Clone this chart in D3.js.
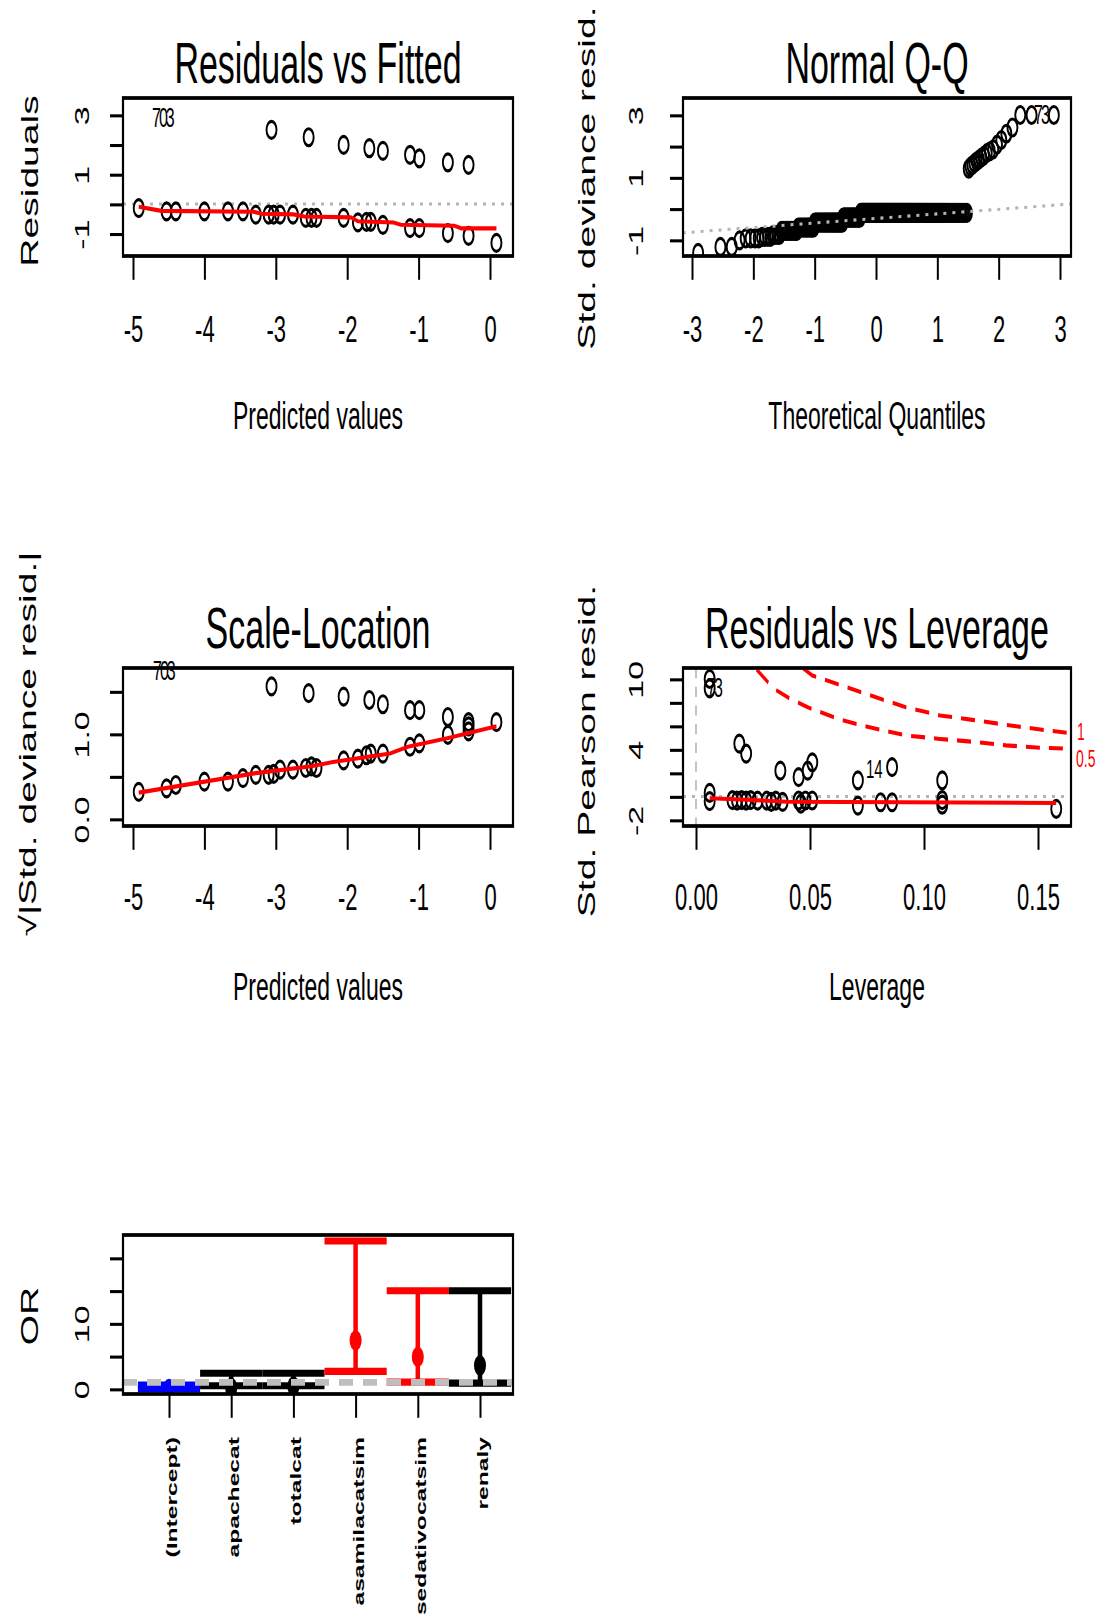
<!DOCTYPE html>
<html>
<head>
<meta charset="utf-8">
<script src="https://cdn.jsdelivr.net/npm/d3@7"></script>
<style>
  body { margin: 0; background: #fff; }
  svg { display: block; }
</style>
</head>
<body>
<svg id="chart" width="1107" height="1624"></svg>
<script>
const W = 1107, H = 1624;
const K = 1.7;              // the picture is stretched vertically by about this much
const Y = v => v / K;       // real pixel row -> inner (unstretched) row
const FONT = '"Liberation Sans", Arial, sans-serif';

// ---------- data ----------
// Residuals vs Fitted: [predicted, residual]
const fitPoints = [
  [-3.06, 2.50], [-2.54, 2.25], [-2.05, 1.99], [-1.69, 1.88], [-1.50, 1.79],
  [-1.12, 1.66], [-0.99, 1.54], [-0.59, 1.40], [-0.30, 1.32],
  [-4.92, -0.14], [-4.53, -0.25], [-4.40, -0.25], [-4.00, -0.25], [-3.67, -0.25],
  [-3.46, -0.25], [-3.28, -0.36], [-3.10, -0.36], [-3.03, -0.36], [-2.94, -0.36],
  [-2.76, -0.36], [-2.58, -0.47], [-2.50, -0.47], [-2.43, -0.47], [-2.05, -0.47],
  [-1.85, -0.62], [-1.73, -0.60], [-1.67, -0.60], [-1.50, -0.70], [-1.12, -0.81],
  [-0.99, -0.81], [-0.59, -0.98], [-0.30, -1.07], [0.09, -1.31]
];
const fitSmooth = [
  [-4.92, -0.09], [-4.72, -0.18], [-4.60, -0.23], [-3.31, -0.26], [-3.20, -0.33],
  [-2.75, -0.35], [-2.60, -0.42], [-1.95, -0.45], [-1.85, -0.58], [-1.35, -0.62],
  [-1.25, -0.70], [-0.50, -0.73], [-0.40, -0.82], [0.09, -0.82]
];

// Normal Q-Q: sorted std. deviance residuals as [value, how many], 268 in all
const qqResidRuns = [
  [-1.41, 1], [-1.22, 2], [-1.01, 1], [-0.95, 4], [-0.90, 4], [-0.84, 4],
  [-0.71, 11], [-0.60, 15], [-0.44, 37], [-0.28, 28], [-0.13, 143],
  [1.28, 1], [1.35, 1], [1.40, 1], [1.46, 1], [1.52, 1], [1.57, 1], [1.64, 1],
  [1.70, 1], [1.78, 1], [1.84, 1], [1.90, 1], [2.05, 1], [2.20, 1], [2.40, 1],
  [2.60, 1], [3.00, 3]
];
const qqLine = { intercept: -0.31, slope: 0.146 };

// Scale-Location: [predicted, sqrt|std. deviance resid|]
const slPoints = [
  [-3.06, 1.56], [-2.54, 1.48], [-2.05, 1.44], [-1.69, 1.40], [-1.50, 1.35],
  [-1.12, 1.28], [-0.99, 1.28], [-0.59, 1.20], [-0.30, 1.14], [-0.30, 1.09],
  [-4.92, 0.32], [-4.53, 0.36], [-4.40, 0.40], [-4.00, 0.44], [-3.67, 0.44],
  [-3.46, 0.48], [-3.28, 0.52], [-3.10, 0.52], [-3.03, 0.53], [-2.94, 0.58],
  [-2.76, 0.58], [-2.58, 0.60], [-2.50, 0.62], [-2.43, 0.60], [-2.05, 0.69],
  [-1.85, 0.71], [-1.73, 0.75], [-1.67, 0.77], [-1.50, 0.77], [-1.12, 0.85],
  [-0.99, 0.89], [-0.59, 0.99], [-0.30, 1.03], [0.09, 1.14]
];
const slSmooth = [
  [-4.92, 0.31], [-3.28, 0.54], [-2.50, 0.62], [-2.20, 0.67], [-1.40, 0.77],
  [-1.15, 0.85], [-0.60, 0.95], [0.09, 1.09]
];

// Residuals vs Leverage: [leverage, std. Pearson resid]
const levPoints = [
  [0.006, 10.0], [0.006, 9.2], [0.006, 0.3], [0.006, -0.4],
  [0.016, -0.3], [0.018, -0.35], [0.020, -0.3], [0.022, -0.35], [0.024, -0.3],
  [0.027, -0.35], [0.031, -0.35], [0.033, -0.45], [0.035, -0.35], [0.038, -0.45],
  [0.037, 2.2], [0.019, 4.5], [0.022, 3.65], [0.045, 1.65], [0.049, 2.2], [0.051, 2.9],
  [0.045, -0.34], [0.048, -0.34], [0.051, -0.34], [0.046, -0.6],
  [0.071, 1.37], [0.071, -0.77], [0.081, -0.49], [0.086, -0.49], [0.086, 2.5],
  [0.108, 1.37], [0.108, -0.3], [0.108, -0.7], [0.158, -1.05]
];
const levSmooth = [[0.006, -0.15], [0.025, -0.30], [0.040, -0.45], [0.158, -0.55]];
const cook1 = [
  [0.047, 10.9], [0.051, 10.3], [0.063, 9.5], [0.078, 8.5], [0.092, 7.6],
  [0.107, 6.9], [0.122, 6.5], [0.136, 6.1], [0.151, 5.7], [0.164, 5.4]
];
const cook05 = [
  [0.0266, 10.8], [0.034, 9.2], [0.041, 8.35], [0.049, 7.6], [0.063, 6.55],
  [0.078, 5.8], [0.092, 5.2], [0.107, 4.9], [0.122, 4.65], [0.136, 4.35],
  [0.151, 4.15], [0.164, 4.06]
];

// Odds ratios with confidence limits
const orCats = ['(Intercept)', 'apachecat', 'totalcat', 'asamilacatsim', 'sedativocatsim', 'renaly'];
const orEst = [0.0, 0.2, 0.4, 7.4, 4.9, 3.6];
const orLow = [0.0, 0.5, 0.5, 2.7, 1.05, 0.9];
const orHigh = [0.6, 2.4, 2.4, 22.6, 15.0, 15.0];
const orColor = ['#0000ff', '#000000', '#000000', '#ff0000', '#ff0000', '#000000'];
const orRef = 1;

// normal quantile (Acklam), used like qqnorm() for the theoretical axis
function qnorm(p) {
  const a = [-39.69683028665376, 220.9460984245205, -275.9285104469687, 138.3577518672690, -30.66479806614716, 2.506628277459239];
  const b = [-54.47609879822406, 161.5858368580409, -155.6989798598866, 66.80131188771972, -13.28068155288572];
  const c = [-0.007784894002430293, -0.3223964580411365, -2.400758277161838, -2.549732539343734, 4.374664141464968, 2.938163982698783];
  const d = [0.007784695709041462, 0.3224671290700398, 2.445134137142996, 3.754408661907416];
  const lo = 0.02425;
  const tail = q => (((((c[0] * q + c[1]) * q + c[2]) * q + c[3]) * q + c[4]) * q + c[5]) /
    ((((d[0] * q + d[1]) * q + d[2]) * q + d[3]) * q + 1);
  if (p < lo) return tail(Math.sqrt(-2 * Math.log(p)));
  if (p > 1 - lo) return -tail(Math.sqrt(-2 * Math.log(1 - p)));
  const q = p - 0.5, r = q * q;
  return (((((a[0] * r + a[1]) * r + a[2]) * r + a[3]) * r + a[4]) * r + a[5]) * q /
    (((((b[0] * r + b[1]) * r + b[2]) * r + b[3]) * r + b[4]) * r + 1);
}
const qqSorted = qqResidRuns.flatMap(([v, n]) => Array(n).fill(v));
const qqPoints = qqSorted.map((v, i) => [qnorm((i + 0.5) / qqSorted.length), v]);

// ---------- drawing ----------
const svg = d3.select('#chart');
svg.append('rect').attr('width', W).attr('height', H).attr('fill', '#fff');
const root = svg.append('g').attr('transform', `scale(1,${K})`).attr('font-family', FONT);

function hText(g, str, x, yReal, size, opts = {}) {
  return g.append('text').attr('x', x).attr('y', Y(yReal))
    .attr('font-size', size).attr('text-anchor', opts.anchor || 'middle')
    .attr('fill', opts.fill || '#000').text(str);
}
function vText(g, str, xBase, yReal, size, anchor = 'middle') {
  return g.append('text')
    .attr('transform', `translate(${xBase},${Y(yReal)}) rotate(-90)`)
    .attr('font-size', size).attr('text-anchor', anchor).text(str);
}

function panel(cfg) {
  const b = cfg.box;
  const g = root.append('g');
  const x = cfg.x, y = cfg.y;

  g.append('clipPath').attr('id', 'clip-' + cfg.name).append('rect')
    .attr('x', b.l).attr('y', Y(b.t)).attr('width', b.r - b.l).attr('height', Y(b.b) - Y(b.t));
  const plot = g.append('g').attr('clip-path', `url(#clip-${cfg.name})`);

  // x axis
  const xa = g.append('g').attr('transform', `translate(0,${Y(b.b)})`)
    .call(d3.axisBottom(x).tickValues(cfg.xTicks).tickSize(14)
      .tickFormat((d, i) => cfg.xLabels ? cfg.xLabels[i] : ''));
  xa.select('.domain').remove();
  xa.selectAll('line').attr('stroke-width', 2);
  xa.attr('font-family', FONT).attr('font-size', 22);
  xa.selectAll('text').attr('y', Y(cfg.xLabY) - Y(b.b)).attr('dy', null).attr('fill', '#000');

  // y axis
  const ya = g.append('g').attr('transform', `translate(${b.l},0)`)
    .call(d3.axisLeft(y).tickValues(cfg.yTicks).tickSize(13)
      .tickFormat((d, i) => cfg.yLabels[i]));
  ya.select('.domain').remove();
  ya.selectAll('line').attr('stroke-width', 1.8);
  ya.attr('font-family', FONT).attr('font-size', 20);
  ya.selectAll('text').attr('x', null).attr('dy', null).attr('fill', '#000')
    .attr('text-anchor', 'middle')
    .attr('transform', `translate(${cfg.yLabX - b.l},0) rotate(-90)`);

  if (cfg.title) hText(g, cfg.title, (b.l + b.r) / 2, cfg.titleY, 34);
  if (cfg.xTitle) hText(g, cfg.xTitle, (b.l + b.r) / 2, cfg.xTitleY, 23);
  vText(g, cfg.yTitle, cfg.yTitleX, cfg.yTitleY, 23);

  return { g, plot, x, y, b };
}

function points(p, data) {
  p.plot.append('g').selectAll('circle').data(data).join('circle')
    .attr('cx', d => p.x(d[0])).attr('cy', d => p.y(d[1])).attr('r', 5)
    .attr('fill', 'none').attr('stroke', '#000').attr('stroke-width', 1.9);
}
function curve(p, data, color, width, dash) {
  p.plot.append('path').datum(data)
    .attr('d', d3.line().x(d => p.x(d[0])).y(d => p.y(d[1])))
    .attr('fill', 'none').attr('stroke', color).attr('stroke-width', width)
    .attr('stroke-dasharray', dash || null);
}
function frame(p) {
  const b = p.b;
  p.g.append('rect').attr('x', b.l).attr('y', Y(b.t))
    .attr('width', b.r - b.l).attr('height', Y(b.b) - Y(b.t))
    .attr('fill', 'none').attr('stroke', '#000').attr('stroke-width', 2.2);
}
function idLabel(p, str, x0, yReal) {
  hText(p.g, str, x0, yReal, 16, { anchor: 'start' }).attr('letter-spacing', -2);
}

// 1. Residuals vs Fitted
const p1 = panel({
  name: 'p1', box: { l: 123, r: 513, t: 98, b: 256 },
  x: d3.scaleLinear().domain([-5, 0]).range([133, 490]),
  y: d3.scaleLinear().domain([3, -1]).range([Y(115), Y(233.7)]),
  xTicks: [-5, -4, -3, -2, -1, 0], xLabels: ['-5', '-4', '-3', '-2', '-1', '0'], xLabY: 342,
  yTicks: [-1, 0, 1, 2, 3], yLabels: ['-1', '', '1', '', '3'], yLabX: 89,
  title: 'Residuals vs Fitted', titleY: 83,
  xTitle: 'Predicted values', xTitleY: 429,
  yTitle: 'Residuals', yTitleX: 38, yTitleY: 181
});
p1.plot.append('line').attr('x1', 123).attr('x2', 513)
  .attr('y1', p1.y(0)).attr('y2', p1.y(0))
  .attr('stroke', '#b4b4b4').attr('stroke-width', 1.8).attr('stroke-dasharray', '3,6');
points(p1, fitPoints);
curve(p1, fitSmooth, '#ff0000', 2.4);
idLabel(p1, '703', 152, 127);
frame(p1);

// 2. Normal Q-Q
const p2 = panel({
  name: 'p2', box: { l: 683, r: 1071, t: 98, b: 256 },
  x: d3.scaleLinear().domain([-3, 3]).range([692, 1060]),
  y: d3.scaleLinear().domain([3, -1]).range([Y(115), Y(240)]),
  xTicks: [-3, -2, -1, 0, 1, 2, 3], xLabels: ['-3', '-2', '-1', '0', '1', '2', '3'], xLabY: 342,
  yTicks: [-1, 0, 1, 2, 3], yLabels: ['-1', '', '1', '', '3'], yLabX: 643,
  title: 'Normal Q-Q', titleY: 83,
  xTitle: 'Theoretical Quantiles', xTitleY: 429,
  yTitle: 'Std. deviance resid.', yTitleX: 595, yTitleY: 178
});
points(p2, qqPoints);
{
  const [x0, x1] = [-3.3, 3.3];
  p2.plot.append('line')
    .attr('x1', p2.x(x0)).attr('y1', p2.y(qqLine.intercept + qqLine.slope * x0))
    .attr('x2', p2.x(x1)).attr('y2', p2.y(qqLine.intercept + qqLine.slope * x1))
    .attr('stroke', '#b4b4b4').attr('stroke-width', 1.8).attr('stroke-dasharray', '3,6');
}
idLabel(p2, '73', 1034, 124);
frame(p2);

// 3. Scale-Location
const p3 = panel({
  name: 'p3', box: { l: 123, r: 513, t: 668, b: 826 },
  x: d3.scaleLinear().domain([-5, 0]).range([133, 490]),
  y: d3.scaleLinear().domain([0, 1.5]).range([Y(819), Y(691.5)]),
  xTicks: [-5, -4, -3, -2, -1, 0], xLabels: ['-5', '-4', '-3', '-2', '-1', '0'], xLabY: 910,
  yTicks: [0, 0.5, 1, 1.5], yLabels: ['0.0', '', '1.0', ''], yLabX: 89,
  title: 'Scale-Location', titleY: 648,
  xTitle: 'Predicted values', xTitleY: 1000,
  yTitle: '\u221A|Std. deviance resid.|', yTitleX: 36, yTitleY: 744
});
points(p3, slPoints);
curve(p3, slSmooth, '#ff0000', 2.4);
idLabel(p3, '703', 153, 680);
frame(p3);

// 4. Residuals vs Leverage
const p4 = panel({
  name: 'p4', box: { l: 683, r: 1071, t: 668, b: 826 },
  x: d3.scaleLinear().domain([0, 0.15]).range([696, 1038]),
  y: d3.scaleLinear().domain([10, -2]).range([Y(679), Y(820)]),
  xTicks: [0, 0.05, 0.1, 0.15], xLabels: ['0.00', '0.05', '0.10', '0.15'], xLabY: 910,
  yTicks: [-2, 0, 2, 4, 6, 8, 10], yLabels: ['-2', '', '', '4', '', '', '10'], yLabX: 643,
  title: 'Residuals vs Leverage', titleY: 648,
  xTitle: 'Leverage', xTitleY: 1000,
  yTitle: 'Std. Pearson resid.', yTitleX: 595, yTitleY: 751
});
p4.plot.append('line').attr('x1', 683).attr('x2', 1071)
  .attr('y1', p4.y(0)).attr('y2', p4.y(0))
  .attr('stroke', '#b4b4b4').attr('stroke-width', 1.8).attr('stroke-dasharray', '3,6');
p4.plot.append('line').attr('x1', p4.x(0)).attr('x2', p4.x(0))
  .attr('y1', Y(668)).attr('y2', Y(826))
  .attr('stroke', '#b4b4b4').attr('stroke-width', 1.6).attr('stroke-dasharray', '6,5');
points(p4, levPoints);
curve(p4, levSmooth, '#ff0000', 2.4);
curve(p4, cook1, '#ff0000', 2.4, '14,9');
curve(p4, cook05, '#ff0000', 2.4, '14,9');
hText(p4.g, '1', 1077, 740, 14, { anchor: 'start', fill: '#ff0000' });
hText(p4.g, '0.5', 1076, 767, 14, { anchor: 'start', fill: '#ff0000' });
hText(p4.g, '14', 866, 778, 15, { anchor: 'start' });
idLabel(p4, '73', 707, 697);
frame(p4);

// 5. Odds ratios
const p5 = panel({
  name: 'p5', box: { l: 123, r: 513, t: 1235, b: 1394 },
  x: d3.scalePoint().domain(orCats).range([169, 480]),
  y: d3.scaleLinear().domain([0, 20]).range([Y(1389), Y(1258)]),
  xTicks: orCats, xLabels: null, xLabY: 1440,
  yTicks: [0, 5, 10, 15, 20], yLabels: ['0', '', '10', '', ''], yLabX: 89,
  yTitle: 'OR', yTitleX: 38, yTitleY: 1316
});
{
  const half = p5.x.step() / 2;
  const rows = orCats.map((c, i) => ({ c, est: orEst[i], lo: orLow[i], hi: orHigh[i], col: orColor[i] }));
  const eg = p5.plot.append('g');
  rows.forEach(r => {
    const cx = p5.x(r.c);
    eg.append('line').attr('x1', cx).attr('x2', cx).attr('y1', p5.y(r.lo)).attr('y2', p5.y(r.hi))
      .attr('stroke', r.col).attr('stroke-width', 4.5);
    [r.lo, r.hi].forEach(v => eg.append('line')
      .attr('x1', cx - half).attr('x2', cx + half).attr('y1', p5.y(v)).attr('y2', p5.y(v))
      .attr('stroke', r.col).attr('stroke-width', 4.2));
    eg.append('circle').attr('cx', cx).attr('cy', p5.y(r.est)).attr('r', 6).attr('fill', r.col);
  });
  p5.plot.append('line').attr('x1', 123).attr('x2', 513)
    .attr('y1', p5.y(orRef)).attr('y2', p5.y(orRef))
    .attr('stroke', '#bebebe').attr('stroke-width', 4).attr('stroke-dasharray', '14,10');
  orCats.forEach(c => vText(p5.g, c, p5.x(c) + 8, 1437, 14.5, 'end').attr('font-weight', 'bold'));
}
frame(p5);
</script>
</body>
</html>
